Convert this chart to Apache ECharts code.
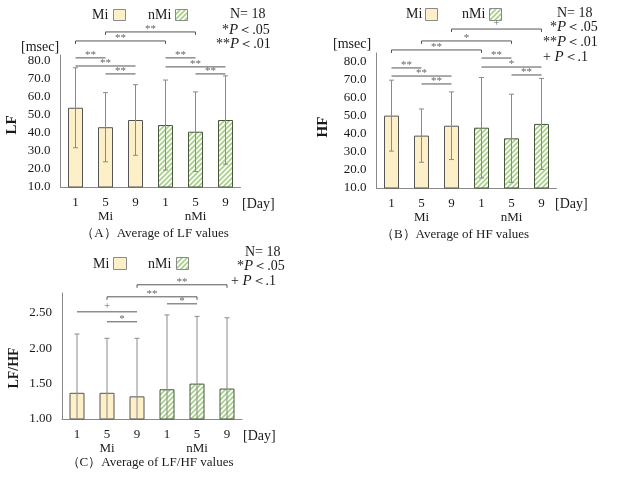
<!DOCTYPE html>
<html>
<head>
<meta charset="utf-8">
<script src="https://cdn.jsdelivr.net/npm/echarts@6/dist/echarts.min.js"></script>
<style>
  html, body { margin: 0; padding: 0; background: #fff; }
  #main { width: 618px; height: 479px; }
</style>
</head>
<body>
<div id="main"></div>
<script>
// categories
const days = ['1', '5', '9', '1', '5', '9']
const groupLabels = ['Mi', 'nMi']

// mean and SD per bar (Mi day1,5,9 then nMi day1,5,9)
const lfMean = [54.0, 43.2, 47.2, 44.4, 40.7, 47.2]
const lfSd = [22.2, 19.2, 19.6, 25.0, 22.1, 24.5]
const hfMean = [50.2, 39.1, 44.6, 43.5, 37.6, 45.6]
const hfSd = [19.7, 14.8, 18.8, 27.9, 24.5, 25.3]
const ratioMean = [1.37, 1.37, 1.32, 1.42, 1.50, 1.43]
const ratioSd = [0.83, 0.77, 0.82, 1.05, 0.95, 1.00]

// significance brackets: [from, to, level, mark, withEnds]
const lfBrackets = [
  [0, 1, 81.7, '**', 0], [0, 2, 77.2, '**', 0], [1, 2, 72.8, '**', 0],
  [0, 3, 91.1, '**', 1], [1, 4, 96.1, '**', 1],
  [3, 4, 81.7, '**', 0], [3, 5, 76.7, '**', 0], [4, 5, 72.8, '**', 0]
]
const hfBrackets = [
  [0, 1, 76.7, '**', 0], [0, 2, 72.2, '**', 0], [1, 2, 67.8, '**', 0],
  [0, 3, 86.7, '**', 1], [1, 4, 91.7, '*', 1], [2, 5, 98.3, '+', 1],
  [3, 4, 82.2, '**', 0], [3, 5, 77.2, '*', 0], [4, 5, 72.8, '**', 0]
]
const ratioBrackets = [
  [0, 2, 2.514, '+', 0], [1, 2, 2.373, '*', 0],
  [1, 4, 2.726, '**', 1], [2, 5, 2.896, '**', 1],
  [3, 4, 2.627, '*', 0]
]

const SERIF = '"Liberation Serif", "Times New Roman", serif'
const MI_FILL = '#fdf0c9'
const INK = '#1a1a1a'

function hatch () {
  let c = document.createElement('canvas')
  c.width = 5
  c.height = 5
  let g = c.getContext('2d')
  g.fillStyle = '#ffffff'
  g.fillRect(0, 0, 5, 5)
  g.strokeStyle = '#a6d288'
  g.lineWidth = 1.7
  g.beginPath()
  g.moveTo(0, 5); g.lineTo(5, 0)
  g.moveTo(-1, 1); g.lineTo(1, -1)
  g.moveTo(4, 6); g.lineTo(6, 4)
  g.stroke()
  return c
}
const hatchImg = hatch()

function barData (means) {
  return means.map((v, i) => ({
    value: v,
    itemStyle: i < 3
      ? { color: MI_FILL, borderColor: '#555', borderWidth: 1 }
      : { color: { image: hatchImg, repeat: 'repeat' }, borderColor: '#46573c', borderWidth: 1 }
  }))
}

function errData (means, sds) {
  return means.map((m, i) => [i, m - sds[i], m + sds[i]])
}

function renderErr (params, api) {
  let lo = api.coord([api.value(0), api.value(1)])
  let hi = api.coord([api.value(0), api.value(2)])
  let st = { stroke: '#8a8a8a', lineWidth: 1 }
  return {
    type: 'group',
    children: [
      { type: 'line', shape: { x1: hi[0], y1: hi[1], x2: lo[0], y2: lo[1] }, style: st },
      { type: 'line', shape: { x1: hi[0] - 2.5, y1: hi[1], x2: hi[0] + 2.5, y2: hi[1] }, style: st },
      { type: 'line', shape: { x1: lo[0] - 2.5, y1: lo[1], x2: lo[0] + 2.5, y2: lo[1] }, style: st }
    ]
  }
}

function bracketRenderer (list) {
  return function (params, api) {
    let b = list[params.dataIndex]
    let p1 = api.coord([b[0], b[2]])
    let p2 = api.coord([b[1], b[2]])
    let st = { stroke: '#555', lineWidth: 1 }
    let children = [
      { type: 'line', shape: { x1: p1[0], y1: p1[1], x2: p2[0], y2: p2[1] }, style: st }
    ]
    if (b[4]) {
      children.push({ type: 'line', shape: { x1: p1[0], y1: p1[1], x2: p1[0], y2: p1[1] + 3 }, style: st })
      children.push({ type: 'line', shape: { x1: p2[0], y1: p2[1], x2: p2[0], y2: p2[1] + 3 }, style: st })
    }
    children.push({
      type: 'text',
      x: (p1[0] + p2[0]) / 2,
      y: p1[1] + (b[3] === '+' ? 0 : 3),
      style: {
        text: b[3], align: 'center', verticalAlign: 'bottom',
        fill: '#666', font: '11px ' + SERIF
      }
    })
    return { type: 'group', children: children }
  }
}

function xAxisCfg (gi) {
  return {
    type: 'category',
    gridIndex: gi,
    data: days.map((d, i) => i === 1 ? d + '\n' + groupLabels[0] : i === 4 ? d + '\n' + groupLabels[1] : d),
    axisLine: { lineStyle: { color: '#8a8a8a', width: 1 } },
    axisTick: { show: false },
    axisLabel: { color: INK, fontFamily: SERIF, fontSize: 13, margin: 9, lineHeight: 14 }
  }
}

function yAxisCfg (gi, min, max, interval, digits) {
  return {
    type: 'value',
    gridIndex: gi,
    min: min,
    max: max,
    interval: interval,
    axisLine: { show: true, lineStyle: { color: '#8a8a8a', width: 1 } },
    axisTick: { show: false },
    splitLine: { show: false },
    axisLabel: {
      color: INK, fontFamily: SERIF, fontSize: 13, margin: 10, showMaxLabel: false,
      formatter: v => v.toFixed(digits)
    }
  }
}

function panelSeries (gi, means, sds, brackets) {
  return [
    { type: 'bar', xAxisIndex: gi, yAxisIndex: gi, barWidth: 15, data: barData(means), silent: true },
    { type: 'custom', xAxisIndex: gi, yAxisIndex: gi, renderItem: renderErr, data: errData(means, sds), clip: true, z: 5, silent: true },
    { type: 'custom', xAxisIndex: gi, yAxisIndex: gi, renderItem: bracketRenderer(brackets),
      data: brackets.map(b => [b[0], b[2], b[1]]), clip: false, z: 6, silent: true }
  ]
}

function txt (x, y, text, opt) {
  return {
    type: 'text', x: x, y: y,
    style: Object.assign({
      text: text, fill: INK, font: '14px ' + SERIF, verticalAlign: 'middle',
      rich: { i: { fontStyle: 'italic', fontFamily: SERIF, fontSize: 15, fill: INK } }
    }, opt || {})
  }
}

function box (x, y, w, h, fill) {
  return { type: 'rect', shape: { x: x, y: y, width: w, height: h }, style: { fill: fill, stroke: '#8a8a8a', lineWidth: 1 } }
}

const hatchFill = { image: hatchImg, repeat: 'repeat' }

const graphics = [
  // panel A
  txt(92, 15, 'Mi'), box(113.5, 9.5, 12, 11, MI_FILL),
  txt(148, 15, 'nMi'), box(175.5, 9.5, 12, 11, hatchFill),
  txt(230, 14, 'N= 18'),
  txt(222, 30, '*{i|P}＜.05'),
  txt(216, 44, '**{i|P}＜.01'),
  txt(21, 47, '[msec]'),
  txt(12, 125, 'LF', { align: 'center', font: 'bold 15px ' + SERIF }),
  txt(242, 204, '[Day]'),
  txt(155, 234, '（A）Average of LF values', { align: 'center', font: '13px ' + SERIF }),
  // panel B
  txt(406, 14, 'Mi'), box(425.5, 8.5, 12, 12, MI_FILL),
  txt(462, 14, 'nMi'), box(489.5, 8.5, 12, 12, hatchFill),
  txt(557, 13, 'N= 18'),
  txt(550, 27, '*{i|P}＜.05'),
  txt(543, 42, '**{i|P}＜.01'),
  txt(543, 57, '+ {i|P}＜.1'),
  txt(333, 44, '[msec]'),
  txt(323, 127, 'HF', { align: 'center', font: 'bold 15px ' + SERIF }),
  txt(555, 204, '[Day]'),
  txt(455, 235, '（B）Average of HF values', { align: 'center', font: '13px ' + SERIF }),
  // panel C
  txt(93, 264, 'Mi'), box(113.5, 257.5, 13, 12, MI_FILL),
  txt(148, 264, 'nMi'), box(176.5, 257.5, 12, 12, hatchFill),
  txt(245, 252, 'N= 18'),
  txt(237, 266, '*{i|P}＜.05'),
  txt(231, 281, '+ {i|P}＜.1'),
  txt(14, 368, 'LF/HF', { align: 'center', font: 'bold 14px ' + SERIF }),
  txt(243, 436, '[Day]'),
  txt(150, 463, '（C）Average of LF/HF values', { align: 'center', font: '13px ' + SERIF })
]
// rotate the y axis titles
graphics.forEach(g => {
  if (g.style && ['LF', 'HF', 'LF/HF'].includes(g.style.text)) g.rotation = Math.PI / 2
})

const chart = echarts.init(document.getElementById('main'), null, { renderer: 'canvas' })
chart.setOption({
  animation: false,
  backgroundColor: '#fff',
  grid: [
    { left: 60.5, top: 55, width: 180, height: 132 },
    { left: 376.5, top: 53, width: 180, height: 135 },
    { left: 62, top: 293, width: 180, height: 126 }
  ],
  xAxis: [xAxisCfg(0), xAxisCfg(1), xAxisCfg(2)],
  yAxis: [
    yAxisCfg(0, 10, 83.3, 10, 1),
    yAxisCfg(1, 10, 85, 10, 1),
    yAxisCfg(2, 1, 2.78, 0.5, 2)
  ],
  series: [
    ...panelSeries(0, lfMean, lfSd, lfBrackets),
    ...panelSeries(1, hfMean, hfSd, hfBrackets),
    ...panelSeries(2, ratioMean, ratioSd, ratioBrackets)
  ],
  graphic: graphics
})
</script>
</body>
</html>
